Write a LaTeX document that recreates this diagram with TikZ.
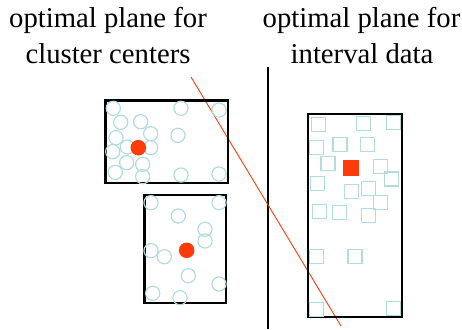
\documentclass[tikz,border=0pt]{standalone}
\usepackage{fontspec}
\setmainfont{Liberation Serif}
\begin{document}
\begin{tikzpicture}[x=1pt,y=-1pt,
  frame/.style={draw=black,line width=2.2pt},
  lbl/.style={font=\fontsize{28.7}{34}\selectfont,anchor=base,inner sep=0pt}]
\useasboundingbox (0,0) rectangle (462,329);
\definecolor{ptc}{HTML}{B3DCDF}
\definecolor{redc}{HTML}{FF3B0A}
\tikzset{pt/.style={draw=ptc,line width=1.2pt},ctr/.style={fill=redc,draw=none}}
% titles
\node[lbl] (t1) at (108,27.7) {optimal plane for};
\node[lbl] (t2) at (108,63.3) {cluster centers};
\node[lbl] (t3) at (361.5,27.7) {optimal plane for};
\node[lbl] (t4) at (362,63.3) {interval data};
% dividing line
\coordinate (v1) at (268,67);
\coordinate (v2) at (268,329);
\draw[line width=1.5pt] (v1) -- (v2);
% red plane line
\coordinate (r1) at (191,77);
\coordinate (r2) at (341,326);
\draw[redc,line width=0.9pt] (r1) -- (r2);
% box 1
\draw[frame] (105.5,100.5) rectangle (228,183);
\foreach \x/\y in {113.3/108.3,181/108.3,219/110,120.7/122.3,140.7/121.7,116/137.7,150.7/133.7,178/135.3,127.3/147,112.7/151.7,150.7/147.7,126.7/162.7,142.7/164.3,115.3/172.3,142.7/176.7,181/175,219/174}
  \draw[pt] (\x,\y) circle (7.1);
\fill[ctr] (138.3,147.7) circle (7.8);
% box 2
\draw[frame] (144.5,195) rectangle (226,303);
\foreach \x/\y in {151/202.7,219/202.7,178.3/216,205/229.3,205/241,151/250.7,164.3/256.7,188.3/275.7,219/284,152.7/293.3,180/297.7}
  \draw[pt] (\x,\y) circle (7.1);
\fill[ctr] (186.7,250.3) circle (7.8);
% box 3
\draw[frame] (308,114) rectangle (402,317);
\foreach \x/\y in {318.7/124.3,363.3/123.7,393.3/122.7,316.7/147.7,340/144.3,367.3/144.3,328/163.7,380.3/166.3,391.3/179,317.3/183.3,351.3/191.7,368.7/188.3,380.3/202.3,319.3/211.7,339.7/212.3,368.3/215.7,316.3/256.3,355/256.3,316.3/309.7,393.7/308.7}
  \draw[pt] (\x-7,\y-7) rectangle (\x+7,\y+7);
\fill[ctr] (343.3,159.7) rectangle (359.3,175.7);
\end{tikzpicture}
\end{document}
